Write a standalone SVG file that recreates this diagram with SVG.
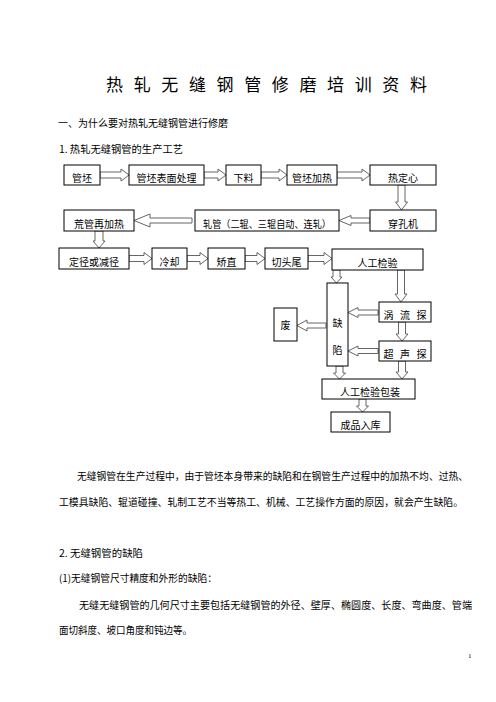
<svg xmlns="http://www.w3.org/2000/svg" width="496" height="702" viewBox="0 0 496 702">
<style>
  text { font-family: "Noto Sans CJK SC", "Noto Sans", sans-serif; fill: #000; }
  .box { fill: #fff; stroke: #000; stroke-width: 1; }
  .lbl { font-size: 10px; text-anchor: middle; }
  .body { font-size: 10px; }
  .arrow { fill: #fff; stroke: #555; stroke-width: 0.9; stroke-linejoin: miter; }
</style>
<rect width="496" height="702" fill="#fff"/>

<g id="page-text">
  <text x="106" y="91" font-size="17" textLength="321" lengthAdjust="spacing">热 轧 无 缝 钢 管 修 磨 培 训 资 料</text>
  <text class="body" x="58" y="127" textLength="170" lengthAdjust="spacingAndGlyphs">一、为什么要对热轧无缝钢管进行修磨</text>
  <text class="body" x="59" y="153" textLength="124" lengthAdjust="spacingAndGlyphs">1. 热轧无缝钢管的生产工艺</text>
  <text class="body" x="77" y="480" textLength="391" lengthAdjust="spacingAndGlyphs">无缝钢管在生产过程中，由于管坯本身带来的缺陷和在钢管生产过程中的加热不均、过热、</text>
  <text class="body" x="59" y="506" textLength="404" lengthAdjust="spacingAndGlyphs">工模具缺陷、辊道碰撞、轧制工艺不当等热工、机械、工艺操作方面的原因，就会产生缺陷。</text>
  <text class="body" x="59" y="557" textLength="84" lengthAdjust="spacingAndGlyphs">2. 无缝钢管的缺陷</text>
  <text class="body" x="59" y="582" textLength="158" lengthAdjust="spacingAndGlyphs">(1)无缝钢管尺寸精度和外形的缺陷：</text>
  <text class="body" x="79" y="609" textLength="393" lengthAdjust="spacingAndGlyphs">无缝无缝钢管的几何尺寸主要包括无缝钢管的外径、壁厚、椭圆度、长度、弯曲度、管端</text>
  <text class="body" x="59" y="634" textLength="133" lengthAdjust="spacingAndGlyphs">面切斜度、坡口角度和钝边等。</text>
  <text x="468" y="658" font-size="7" style="font-family:'Liberation Serif', serif">1</text>
</g>

<g id="connectors">
  <path class="arrow" d="M100,172 L121,172 L121,169 L129,175 L121,181 L121,178 L100,178 Z"/>
  <path class="arrow" d="M204,172 L218,172 L218,169 L226,175 L218,181 L218,178 L204,178 Z"/>
  <path class="arrow" d="M261,172 L279,172 L279,169 L287,175 L279,181 L279,178 L261,178 Z"/>
  <path class="arrow" d="M337,172 L362,172 L362,169 L370,175 L362,181 L362,178 L337,178 Z"/>
  <path class="arrow" d="M398,185 L405,185 L405,202 L407.5,202 L401.5,210 L395.5,202 L398,202 Z"/>
  <path class="arrow" d="M370,218 L351,218 L351,215.5 L339,220.5 L351,225.5 L351,223 L370,223 Z"/>
  <path class="arrow" d="M192,218 L150,218 L150,214 L134,220.5 L150,227 L150,223 L192,223 Z"/>
  <path class="arrow" d="M95,231 L103,231 L103,241 L105,241 L99,248 L93,241 L95,241 Z"/>
  <path class="arrow" d="M129,255.5 L144,255.5 L144,252.5 L152,258.5 L144,264.5 L144,261.5 L129,261.5 Z"/>
  <path class="arrow" d="M187,255.5 L200,255.5 L200,252.5 L208,258.5 L200,264.5 L200,261.5 L187,261.5 Z"/>
  <path class="arrow" d="M245,255.5 L257,255.5 L257,252.5 L265,258.5 L257,264.5 L257,261.5 L245,261.5 Z"/>
  <path class="arrow" d="M308,255.5 L324,255.5 L324,252.5 L332,258.5 L324,264.5 L324,261.5 L308,261.5 Z"/>
  <path class="arrow" d="M333,270 L340,270 L340,277 L342,277 L336.5,283 L331,277 L333,277 Z"/>
  <path class="arrow" d="M397.5,270 L404.5,270 L404.5,294 L407,294 L401,302 L395,294 L397.5,294 Z"/>
  <path class="arrow" d="M378,310 L358,310 L358,307.5 L348,312.5 L358,317.5 L358,315 L378,315 Z"/>
  <path class="arrow" d="M378,348.5 L358,348.5 L358,346 L348,351 L358,356 L358,353.5 L378,353.5 Z"/>
  <path class="arrow" d="M326,323 L307,323 L307,320 L297,325.5 L307,331 L307,328 L326,328 Z"/>
  <path class="arrow" d="M398.5,322 L405.5,322 L405.5,334 L408,334 L402,341 L396,334 L398.5,334 Z"/>
  <path class="arrow" d="M336,366 L343,366 L343,373 L345.5,373 L339.5,379 L333.5,373 L336,373 Z"/>
  <path class="arrow" d="M398.5,361 L405.5,361 L405.5,372 L408,372 L402,379 L396,372 L398.5,372 Z"/>
  <path class="arrow" d="M359,399 L366,399 L366,406 L368.5,406 L362.5,412 L356.5,406 L359,406 Z"/>
</g>

<g id="n-guanpi"><rect class="box" x="64" y="165" width="36" height="20"/><text class="lbl" x="82" y="182">管坯</text></g>
<g id="n-biaomian"><rect class="box" x="129" y="165" width="75" height="20"/><text class="lbl" x="166.5" y="182">管坯表面处理</text></g>
<g id="n-xialiao"><rect class="box" x="226" y="165" width="35" height="20"/><text class="lbl" x="243.5" y="182">下料</text></g>
<g id="n-jiare"><rect class="box" x="287" y="165" width="50" height="20"/><text class="lbl" x="312" y="182">管坯加热</text></g>
<g id="n-dingxin"><rect class="box" x="370" y="165" width="66" height="20"/><text class="lbl" x="403" y="182">热定心</text></g>

<g id="n-chuankong"><rect class="box" x="370" y="210" width="66" height="21"/><text class="lbl" x="403" y="228">穿孔机</text></g>
<g id="n-zhaguan"><rect class="box" x="195" y="210" width="144" height="21"/><text class="lbl" x="267" y="228" textLength="128" lengthAdjust="spacingAndGlyphs">轧管（二辊、三辊自动、连轧）</text></g>
<g id="n-huangguan"><rect class="box" x="64" y="210" width="70" height="21"/><text class="lbl" x="99" y="228">荒管再加热</text></g>

<g id="n-dingjing"><rect class="box" x="59" y="248" width="70" height="21"/><text class="lbl" x="94" y="266">定径或减径</text></g>
<g id="n-lengque"><rect class="box" x="152" y="248" width="35" height="21"/><text class="lbl" x="169.5" y="266">冷却</text></g>
<g id="n-jiaozhi"><rect class="box" x="208" y="248" width="37" height="21"/><text class="lbl" x="226.5" y="266">矫直</text></g>
<g id="n-qietou"><rect class="box" x="265" y="248" width="43" height="21"/><text class="lbl" x="286.5" y="266">切头尾</text></g>
<g id="n-jianyan"><rect class="box" x="332" y="249" width="91" height="21"/><text class="lbl" x="377.5" y="267">人工检验</text></g>

<g id="n-quexian"><rect class="box" x="327" y="283" width="21" height="83"/><text class="lbl" x="337.5" y="327" font-size="11">缺</text><text class="lbl" x="337.5" y="354" font-size="11">陷</text></g>
<g id="n-fei"><rect class="box" x="274" y="308" width="23" height="33"/><text class="lbl" x="285.5" y="329" font-size="11">废</text></g>
<g id="n-woliu"><rect class="box" x="379" y="302" width="52" height="20"/><text class="lbl" x="405" y="319" textLength="43" lengthAdjust="spacing">涡 流 探</text></g>
<g id="n-chaosheng"><rect class="box" x="379" y="341" width="52" height="20"/><text class="lbl" x="405" y="358" textLength="43" lengthAdjust="spacing">超 声 探</text></g>
<g id="n-baozhuang"><rect class="box" x="322" y="379" width="93" height="20"/><text class="lbl" x="370" y="396">人工检验包装</text></g>
<g id="n-ruku"><rect class="box" x="331" y="412" width="59" height="20"/><text class="lbl" x="360.5" y="429">成品入库</text></g>
</svg>
